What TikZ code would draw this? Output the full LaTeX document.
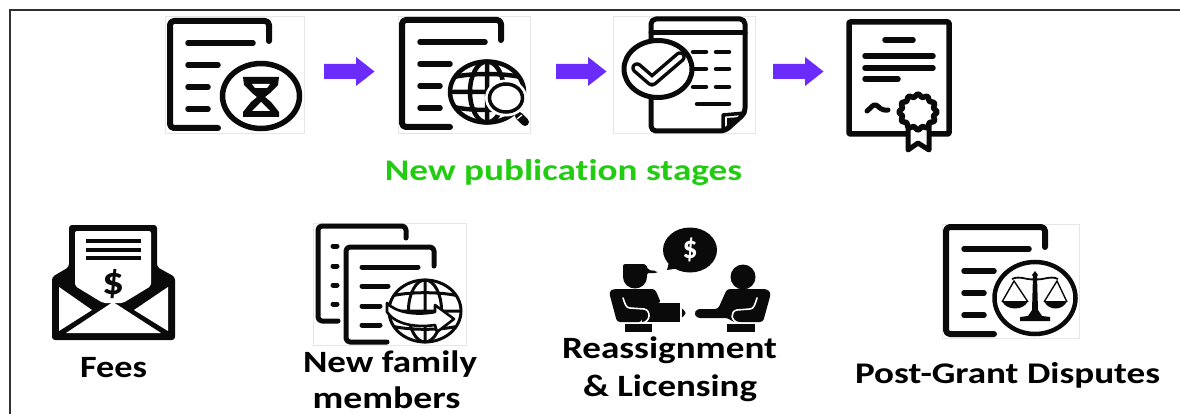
\documentclass[tikz,border=0pt]{standalone}
\usepackage{fontspec}
\usepackage{graphicx}
\setmainfont{Carlito}[Ligatures=NoCommon]
\definecolor{arrowpurple}{HTML}{6A2BFB}
\definecolor{stagegreen}{HTML}{22CC11}
\definecolor{inkblack}{HTML}{0A0A0A}
\definecolor{faintedge}{HTML}{E6E6E6}
\definecolor{framegrey}{HTML}{303030}
\newcommand{\lbl}[3]{\resizebox{#1pt}{\height}{\fontsize{#2}{#2}\selectfont\bfseries #3}}
\tikzset{
  ink/.style={draw=inkblack,line cap=round,line join=round,line width=6pt},
  edgebox/.style={draw=faintedge,line width=.7pt},
  txt/.style={inner sep=0pt,anchor=base,text=black},
  docpic/.pic={
    \draw[ink,rounded corners=4pt] (48,107)--(0,107)--(0,0)--(99,0)--(99,20);
    \draw[ink,line width=5.5pt] (18,22)--(83,22) (18,44)--(48,44) (18,66)--(38,66) (18,88)--(38,88);
  },
  blockarrow/.pic={
    \fill[arrowpurple] (0,7)--(32,7)--(32,0)--(50.5,14.5)--(32,29)--(32,22)--(0,22)--cycle;
  },
  globepic/.pic={
    \draw[inkblack,line cap=round] (0,0) circle (1);
    \draw[inkblack] (0,0) ellipse (.46 and 1) (0,-1)--(0,1) (-1,0)--(1,0);
    \draw[inkblack] (-.87,-.5) .. controls (-.4,-.62) and (.4,-.62) .. (.87,-.5);
    \draw[inkblack] (-.87,.5) .. controls (-.4,.62) and (.4,.62) .. (.87,.5);
  }
}
\begin{document}
\begin{tikzpicture}[x=1pt,y=-1pt]
\useasboundingbox (0,0) rectangle (1180,414);
\draw[framegrey,line width=2pt] (1180,10)--(10,10)--(10,414);

% faint image edges
\draw[edgebox] (165,16) rectangle (304,133);
\draw[edgebox] (398,16) rectangle (530,133);
\draw[edgebox] (613,16) rectangle (755,133);
\draw[edgebox] (313,223) rectangle (466,345);
\draw[edgebox] (942,224) rectangle (1079,338);

% icon 1: document with hourglass
\pic at (170,21) {docpic};
\draw[inkblack,line width=5.5pt] (261,96) ellipse (38.5 and 32.5);
\fill[inkblack] (243,77)--(279,77)--(278,85)--(270,93)--(265,97)--(271,102)--(279,112)--(279,117)--(243,117)--(243,112)--(251,102)--(257,97)--(252,93)--(244,85)--cycle;
\fill[white] (252,84)--(270,84)--(267,88)--(255,88)--cycle;
\fill[white] (261,102)--(270,111)--(252,111)--cycle;

\pic at (324,57) {blockarrow};

% icon 2: document with globe and magnifier
\pic at (402,20) {docpic};
\pic[line width=4.5pt] at (487,92) [xscale=37,yscale=30.5] {globepic};
\draw[inkblack,line width=5pt,line cap=round] (515,110)--(520,116);
\draw[inkblack,line width=8pt,line cap=round] (519,116)--(525,122);
\draw[white,line width=1.2pt] (517,119)--(522,115);
\draw[white,line width=3pt] (506,98) ellipse (19.5 and 17);
\draw[inkblack,line width=3.5pt,fill=white] (506,98) ellipse (16.5 and 14);

\pic at (556,57) {blockarrow};

% icon 3: document with check mark
\draw[ink,line width=5pt,rounded corners=5pt] (725,131)--(651,131)--(651,19)--(745,19)--(745,113)--cycle;
\draw[ink,line width=5pt] (651,33)--(745,33);
\draw[inkblack,line width=3.5pt,line join=round,fill=white] (723,131)--(723,115)--(745,113)--cycle;
\fill[inkblack] (730,127)--(741,117)--(727,118)--(727,125)--cycle;
\draw[ink,line width=4.5pt] (693,52)--(706,52) (716,52)--(729,52) (693,69)--(706,69) (716,69)--(729,69) (693,87)--(706,87) (716,87)--(729,87) (697,104)--(729,104);
\draw[inkblack,line width=5pt,fill=white] (658,69) ellipse (34 and 28.5);
\draw[inkblack,line width=11.5pt,line join=round,line cap=round] (637,68)--(652,81)--(680,57);
\draw[white,line width=4.5pt,line join=round,line cap=round] (637,68)--(652,81)--(680,57);

\pic at (773,57) {blockarrow};

% icon 4: certificate
\draw[ink,line width=5.5pt,rounded corners=1pt] (849,22) rectangle (949,134);
\draw[ink,line width=5.5pt] (885,40)--(913,40) (865,56)--(933,56) (865,68)--(933,68) (865,79)--(898,79);
\draw[ink,line width=5pt] (867,111) .. controls (871,108) and (873,104) .. (876,105) .. controls (879,106) and (880,111) .. (888,110);
\draw[inkblack,line width=5pt,line join=round,fill=white] (908,122)--(908,150)--(918,143)--(929,150)--(929,122)--cycle;
\draw[inkblack,line width=5.5pt,fill=white,line join=round] plot[domain=0:360,samples=144,smooth] ({918+(17.5+1.3*cos(12*\x))*cos(\x)},{112+(16.5+1.3*cos(12*\x))*sin(\x)}) -- cycle;

% heading
\node[txt,text=stagegreen] (heading) at (563.5,181) {\lbl{357}{30}{New publication stages}};

% fees: envelope
\fill[inkblack,rounded corners=3pt] (52,277)--(69,267)--(69,225)--(157,225)--(157,267)--(175,277)--(175,340)--(52,340)--cycle;
\fill[white,rounded corners=2pt] (75,231)--(151,231)--(151,286)--(123,303)--(103,303)--(75,286)--cycle;
\fill[white] (59,287)--(92,310)--(59,331)--cycle (168,287)--(134,310)--(168,331)--cycle (66,333)--(113,302)--(161,333)--cycle;
\draw[inkblack,line width=3.4pt] (86,241)--(141,241) (86,250)--(141,250) (86,258)--(141,258);
\node[inner sep=0pt,text=inkblack] (feesdollar) at (113,284) {\lbl{22}{39}{\$}};
\node[txt] (fees) at (113.5,377) {\lbl{67}{31}{Fees}};

% new family members
\draw[ink,line width=5pt,rounded corners=4pt] (338,321)--(318,321)--(318,226)--(406,226)--(406,238);
\draw[ink,line width=5pt] (333,246)--(337,246) (333,266)--(337,266) (333,285)--(337,285) (333,304)--(337,304);
\draw[ink,line width=5pt,rounded corners=4pt] (387,342)--(346,342)--(346,247)--(434,247)--(434,266);
\draw[ink,line width=5pt] (362,267)--(418,267) (362,286)--(388,286) (362,306)--(380,306) (362,325)--(380,325);
\pic[line width=3pt] at (425,311) [xscale=36,yscale=31] {globepic};
\draw[inkblack,line width=2.6pt,fill=white,line join=round] (387,303) .. controls (395,312) and (415,316) .. (435,312)--(435,305)--(454,319)--(437,332)--(435,325) .. controls (415,328) and (395,324) .. (387,312)--cycle;
\node[txt] (family1) at (390,372) {\lbl{174}{31}{New family}};
\node[txt] (family2) at (386.5,408) {\lbl{148}{31}{members}};

% reassignment and licensing
\fill[inkblack] (690,250) ellipse (27 and 22.5);
\fill[inkblack] (670,258)--(667,270)--(680,268)--cycle;
\node[inner sep=0pt,text=white] (bubbledollar) at (690,250) {\lbl{15}{32}{\$}};
\fill[inkblack] (635,277) ellipse (12 and 11.5);
\fill[inkblack,rounded corners=2pt] (623,278)--(623,264)--(646,264)--(648,270)--(657,271)--(657,273)--(647,273)--(647,278)--cycle;
\fill[inkblack,rounded corners=3pt] (609,292)--(613,289)--(655,289)--(661,303)--(642,303)--(642,322)--(617,322)--cycle;
\fill[inkblack] (642,303) rectangle (680,322);
\fill[inkblack,rounded corners=1pt] (682,308)--(686,313)--(682,318)--cycle;
\fill[inkblack] (625,324) rectangle (652,332);
\draw[white,line width=1.6pt,line cap=round] (623,298) .. controls (625,304) and (626,308) .. (630,308) -- (644,309) .. controls (651,310) and (651,322) .. (642,323);
\fill[inkblack] (743,277) circle (12.5);
\fill[inkblack,rounded corners=3pt] (694,313.5)--(697,309)--(718,309)--(727,289)--(767,289)--(771,293)--(763,322)--(733,322)--(728,318)--(697,318)--cycle;
\fill[inkblack] (727,324) rectangle (755,332);
\draw[white,line width=1.6pt,line cap=round] (757,298) .. controls (755,304) and (754,309) .. (750,309) -- (737,310) .. controls (730,311) and (730,322) .. (740,323);
\node[txt] (reassign) at (669.5,358) {\lbl{215}{31}{Reassignment}};
\node[txt] (licensing) at (670,396) {\lbl{174}{31}{\& Licensing}};

% post-grant disputes
\pic at (946,227) {docpic};
\draw[inkblack,line width=4.5pt] (1035,298) ellipse (40.5 and 36);
\fill[inkblack] (1033,276)--(1037,276)--(1038,310)--(1042,316)--(1050,317)--(1050,321)--(1020,321)--(1020,317)--(1028,316)--(1032,310)--cycle;
\fill[inkblack] (1035,271)--(1038,275)--(1035,279)--(1032,275)--cycle;
\draw[inkblack,line width=1.8pt] (1012,279) .. controls (1020,275) and (1028,281) .. (1035,279) .. controls (1042,281) and (1050,275) .. (1058,279);
\draw[inkblack,line width=1.4pt] (1002,302)--(1014,281)--(1028,302) (1044,302)--(1057,281)--(1067,302);
\fill[inkblack] (1002,301) .. controls (1006,311) and (1024,311) .. (1028,301) -- cycle;
\fill[inkblack] (1044,301) .. controls (1048,311) and (1063,311) .. (1067,301) -- cycle;
\node[txt] (postgrant) at (1007.5,383) {\lbl{305}{30}{Post-Grant Disputes}};
\end{tikzpicture}
\end{document}
